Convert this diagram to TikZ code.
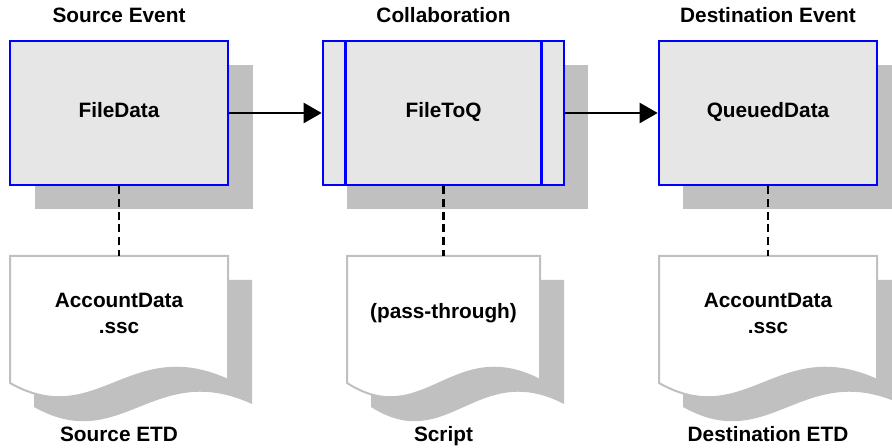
\documentclass[tikz,border=0pt]{standalone}
\usepackage{fontspec}
\setmainfont{Liberation Sans}
\usetikzlibrary{arrows.meta}
\definecolor{boxfill}{RGB}{230,230,230}
\definecolor{shade}{RGB}{192,192,192}
\definecolor{boxblue}{RGB}{0,0,255}
\newcommand\mydocpath[4]{(#1,256) -- (#2,256) -- (#2,380) .. controls (#3,335) and (#4,432) .. (#1,383) -- cycle}
\begin{document}
\begin{tikzpicture}[x=0.75pt,y=-0.75pt,
  txt/.style={font=\fontsize{15.6}{19.5}\selectfont\bfseries, inner sep=0pt},
  evbox/.style={draw=boxblue, line width=2pt, fill=boxfill, minimum height=108pt, inner sep=0pt},
  shadowfill/.style={fill=shade, draw=none},
  docfill/.style={fill=white, draw=shade, line width=1.5pt},
  docnode/.style={minimum height=95.25pt, inner sep=0pt, outer sep=0pt},
  flow/.style={line width=1.8pt, -{Triangle[length=13.5pt,width=15pt]}},
  dashline/.style={line width=2pt, dash pattern=on 6pt off 3.5pt}]
\useasboundingbox (0,0) rectangle (892,448);
% box shadows
\fill[shadowfill] (35,65) rectangle (253,209);
\fill[shadowfill] (347,65) rectangle (588,209);
\fill[shadowfill] (683,65) rectangle (901,209);
% boxes
\node[evbox, minimum width=163.5pt] (b1) at (119,113) {};
\node[evbox, minimum width=180.75pt] (b2) at (443.5,113) {};
\node[evbox, minimum width=163.5pt] (b3) at (768,113) {};
\draw[boxblue, line width=2pt] ([xshift=18pt]b2.north west) -- ([xshift=18pt]b2.south west);
\draw[boxblue, line width=2pt] ([xshift=-18pt]b2.north east) -- ([xshift=-18pt]b2.south east);
% box texts
\node[txt, anchor=base] (t1) at (119,118) {FileData};
\node[txt, anchor=base] (t2) at (443.5,118) {FileToQ};
\node[txt, anchor=base] (t3) at (768,118) {QueuedData};
% titles
\node[txt, anchor=base] (h1) at (119,23) {Source Event};
\node[txt, anchor=base] (h2) at (443.5,23) {Collaboration};
\node[txt, anchor=base] (h3) at (768,23) {Destination Event};
% documents shadows
\fill[shadowfill, shift={(24,24)}] \mydocpath{10}{228}{130}{97};
\fill[shadowfill, shift={(24,24)}] \mydocpath{347}{540}{453}{424};
\fill[shadowfill, shift={(24,24)}] \mydocpath{659}{877}{779}{746};
% documents
\draw[docfill] \mydocpath{10}{228}{130}{97};
\draw[docfill] \mydocpath{347}{540}{453}{424};
\draw[docfill] \mydocpath{659}{877}{779}{746};
\node[docnode, minimum width=163.5pt] (d1) at (119,319.5) {};
\node[docnode, minimum width=144.75pt] (d2) at (443.5,319.5) {};
\node[docnode, minimum width=163.5pt] (d3) at (768,319.5) {};
% document texts
\node[txt, align=center] (dt1) at (119,313) {AccountData\\.ssc};
\node[txt, anchor=base] (dt2) at (443.5,319) {(pass-through)};
\node[txt, align=center] (dt3) at (768,313) {AccountData\\.ssc};
% bottom labels
\node[txt, anchor=base] (l1) at (119,442) {Source ETD};
\node[txt, anchor=base] (l2) at (443.5,442) {Script};
\node[txt, anchor=base] (l3) at (768,442) {Destination ETD};
% connectors
\draw[flow] (b1.east) -- (b2.west);
\draw[flow] (b2.east) -- (b3.west);
\draw[dashline] (b1.south) -- (d1.north);
\draw[dashline] (b2.south) -- (d2.north);
\draw[dashline] (b3.south) -- (d3.north);
\end{tikzpicture}
\end{document}
